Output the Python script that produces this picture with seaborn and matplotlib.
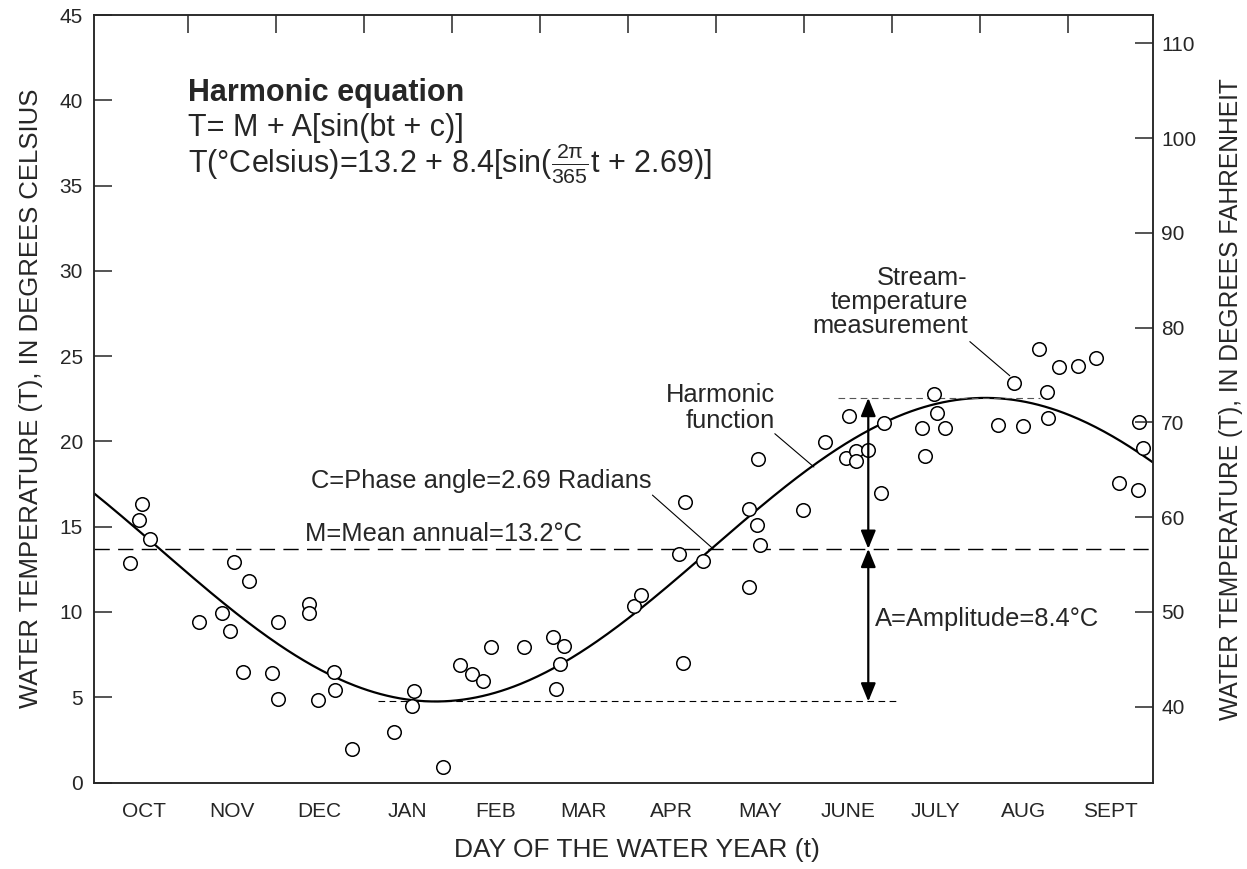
import numpy as np
import matplotlib
matplotlib.use("Agg")
import matplotlib.pyplot as plt
import seaborn as sns

# ==============================
# Data
# ==============================
days = [14.5, 13.6, 17.4, 10.5, 46.3, 51.4, 34.4, 42.4, 45.0, 49.6,
        59.4, 61.7, 61.7, 72.3, 72.3, 81.0, 81.3, 75.4, 87.0, 101.6,
        108.7, 107.9, 118.7, 124.5, 128.5, 132.5, 135.2, 146.6, 156.8, 160.5,
        158.9, 157.7, 184.6, 186.9, 200.1, 202.4, 201.7, 208.4, 224.3, 227.2,
        228.3, 227.4, 224.3, 243.2, 250.6, 258.8, 257.9, 261.3, 261.3, 265.4,
        270.0, 271.0, 288.2, 289.3, 284.3, 292.0, 285.3, 310.6, 319.2, 316.1,
        324.5, 331.4, 338.2, 344.3, 327.3, 327.6, 359.2, 360.7, 352.1, 358.9]
temps = [16.3, 15.4, 14.26, 12.87, 12.9, 11.84, 9.4, 9.92, 8.9, 6.47,
         6.41, 9.4, 4.88, 10.48, 9.95, 6.47, 5.45, 4.86, 1.99, 2.94,
         5.34, 4.47, 0.93, 6.91, 6.36, 5.97, 7.97, 7.97, 8.54, 8.01,
         6.97, 5.47, 10.37, 11.01, 13.37, 16.46, 6.99, 12.98, 16.03, 15.08,
         13.94, 18.96, 11.49, 16.0, 19.98, 21.47, 19.0, 19.45, 18.86, 19.47,
         16.97, 21.08, 22.75, 21.67, 20.78, 20.76, 19.15, 20.94, 20.88, 23.42,
         25.42, 24.38, 24.4, 24.89, 22.9, 21.39, 21.12, 19.6, 17.58, 17.13]

months = ["OCT", "NOV", "DEC", "JAN", "FEB", "MAR", "APR", "MAY",
          "JUNE", "JULY", "AUG", "SEPT"]

# harmonic curve as drawn in the figure
curve_mean = 13.65
curve_amp = 8.9
curve_period = 380.0
curve_phase = 2.794

mean_line = 13.7
min_line = 4.75
max_line = 22.55
arrow_day = 265.6

# ==============================
# Style
# ==============================
sns.set_style("white")
plt.rcParams["font.family"] = ["Liberation Sans", "DejaVu Sans"]
plt.rcParams["mathtext.fontset"] = "custom"
plt.rcParams["mathtext.rm"] = "Liberation Sans"
plt.rcParams["mathtext.it"] = "Liberation Sans"
plt.rcParams["axes.linewidth"] = 1.1

fig = plt.figure(figsize=(12.47, 8.69), dpi=100)
ax = fig.add_axes([94 / 1247, 1 - 782.5 / 869, (1153 - 94) / 1247, (782.5 - 15) / 869])

t = np.linspace(-2, 364, 500)
curve = curve_mean + curve_amp * np.sin(2 * np.pi * t / curve_period + curve_phase)
sns.lineplot(x=t, y=curve, ax=ax, color="black", linewidth=1.6)

sns.scatterplot(x=days, y=temps, ax=ax, marker="o", s=95,
                facecolor="white", edgecolor="black", linewidth=1.1, zorder=3)

# reference lines
ax.axhline(mean_line, color="black", linewidth=1.0, dashes=(11, 6))
ax.plot([96, 276], [min_line, min_line], color="black", linewidth=0.8, dashes=(6, 4))
ax.plot([255, 325], [max_line, max_line], color="#555555", linewidth=0.8, dashes=(6, 4))

arrow_kw = dict(arrowstyle="<|-|>,head_length=1.1,head_width=0.45",
                color="black", linewidth=1.6, shrinkA=0, shrinkB=0)
ax.annotate("", xy=(arrow_day, max_line), xytext=(arrow_day, mean_line), arrowprops=arrow_kw)
ax.annotate("", xy=(arrow_day, min_line), xytext=(arrow_day, mean_line), arrowprops=arrow_kw)

ax.set_xlim(-2, 364)
ax.set_ylim(0, 45)

# month ticks
step = 365 / 12
edges = [step * k for k in range(1, 12)]
ax.set_xticks(edges)
ax.set_xticklabels([])
centers = [(max(-2, step * k) + min(364, step * (k + 1))) / 2 for k in range(12)]
ax.set_xticks(centers, minor=True)
ax.set_xticklabels(months, minor=True, fontsize=15)
ax.tick_params(axis="x", which="major", direction="in", length=13, width=1.1, top=True)
ax.tick_params(axis="x", which="minor", length=0, pad=14)

ax.set_yticks(range(0, 46, 5))
ax.tick_params(axis="y", direction="in", length=13, width=1.1, labelsize=15, pad=8)

ax.set_xlabel("DAY OF THE WATER YEAR (t)", fontsize=19)
ax.xaxis.set_label_coords(0.513, -0.0725, transform=ax.transAxes)
ax.set_ylabel("WATER TEMPERATURE (T), IN DEGREES CELSIUS", fontsize=18.5, labelpad=12)

ax2 = ax.twinx()
ax2.set_ylim(32, 45 * 1.8 + 32)
ax2.set_yticks(range(40, 111, 10))
ax2.tick_params(axis="y", direction="in", length=13, width=1.1, labelsize=15, pad=6)
ax2.set_ylabel("WATER TEMPERATURE (T), IN DEGREES FAHRENHEIT", fontsize=17.7, labelpad=16)
for a in (ax, ax2):
    for sp in a.spines.values():
        sp.set_visible(True)
        sp.set_linewidth(1.1)

# ==============================
# Annotations
# ==============================
ax.text(30.4, 40.4, "Harmonic equation", fontsize=22, fontweight="bold", va="center")
ax.text(30.4, 38.35, "T= M + A[sin(bt + c)]", fontsize=22, va="center")
ax.text(30.4, 36.3, r"T(°Celsius)=13.2 + 8.4[sin($\frac{2\pi}{365}$t + 2.69)]",
        fontsize=22, va="center")

ax.text(73, 17.7, "C=Phase angle=2.69 Radians", fontsize=18.4, va="center")
ax.plot([191, 212], [16.85, 13.7], color="black", linewidth=0.8)

ax.text(71, 14.55, "M=Mean annual=13.2°C", fontsize=18.4, va="center")

ax.text(233.3, 21.95, "Harmonic\nfunction", fontsize=18.4, ha="right", va="center",
        linespacing=1.1)
ax.plot([233.3, 246.8], [20.45, 18.5], color="black", linewidth=0.8)

ax.text(300, 28.2, "Stream-\ntemperature\nmeasurement", fontsize=18.4, ha="right",
        va="center", linespacing=1.0)
ax.plot([300.7, 314.5], [25.85, 23.85], color="black", linewidth=0.8)

ax.text(268, 9.6, "A=Amplitude=8.4°C", fontsize=18.4, va="center")

fig.savefig("out.png", dpi=100)
